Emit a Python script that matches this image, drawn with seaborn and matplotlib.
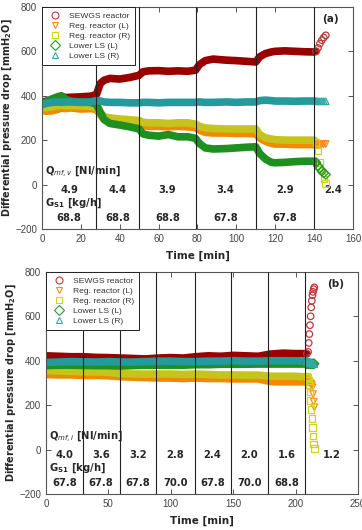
import numpy as np
import pandas as pd
import seaborn as sns
import matplotlib.pyplot as plt
from matplotlib.lines import Line2D

# ---- data ----
series = ["SEWGS reactor", "Reg. reactor (L)", "Reg. reactor (R)", "Lower LS (L)", "Lower LS (R)"]

# panel (a)
ta = [0, 2, 5, 8, 10, 12, 15, 20, 25, 28, 30, 32, 35, 40, 45, 50, 52, 55, 60, 65, 70, 75,
      79, 81, 84, 88, 95, 100, 105, 110, 112, 115, 118, 120, 125, 130, 135,
      140, 141, 142, 143, 144, 145, 146]
a_sewgs = [370, 375, 382, 390, 395, 392, 393, 395, 398, 405, 455, 470, 478, 475, 482,
           492, 508, 512, 513, 510, 512, 510, 515, 540, 558, 565, 560, 558, 555,
           552, 575, 590, 597, 600, 602, 600, 598, 597, 600, 615, 635, 650, 662, 672]
a_reg_l = [335, 330, 332, 338, 345, 342, 345, 340, 342, 338, 315, 295, 282, 278, 274,
           268, 265, 262, 262, 260, 262, 260, 256, 245, 235, 232, 232, 230, 230,
           228, 210, 195, 185, 182, 182, 180, 180, 180, 180, 180, 181, 182, 182, 183]
a_reg_r = [345, 346, 350, 355, 358, 355, 355, 354, 352, 348, 325, 305, 300, 295, 292,
           288, 280, 278, 278, 275, 278, 278, 272, 262, 255, 252, 250, 250, 250,
           250, 225, 210, 205, 202, 200, 200, 200, 200, 190, 150, 100, 60, 25, 5]
a_ls_l = [365, 372, 385, 395, 400, 385, 375, 372, 370, 362, 325, 292, 275, 268, 260,
          250, 228, 222, 218, 225, 215, 215, 208, 185, 165, 160, 162, 165, 168,
          170, 140, 115, 100, 98, 100, 103, 105, 105, 100, 85, 72, 60, 52, 45]
a_ls_r = [360, 365, 370, 372, 370, 372, 372, 370, 372, 378, 376, 372, 370, 370, 368,
          368, 370, 370, 368, 370, 370, 370, 370, 372, 370, 370, 372, 370, 372,
          372, 378, 380, 378, 376, 376, 375, 376, 376, 375, 375, 375, 376, 375, 375]
a_dividers = [28, 50, 79, 110, 140]
a_q = ["4.9", "4.4", "3.9", "3.4", "2.9", "2.4"]
a_g = ["68.8", "68.8", "68.8", "67.8", "67.8"]

# panel (b)
tb = [0, 10, 20, 30, 40, 50, 60, 70, 80, 90, 100, 110, 120, 130, 140, 150, 160, 170, 180,
      190, 200, 205, 209, 210, 210.5, 211, 211.5, 212, 212.5, 213, 213.5, 214, 214.5, 215]
b_sewgs = [422, 420, 418, 418, 415, 414, 412, 410, 408, 412, 414, 412, 418, 422, 420, 424,
           422, 420, 430, 434, 432, 432, 432, 440, 480, 520, 560, 600, 640, 670, 695, 710, 722, 730]
b_reg_l = [338, 336, 336, 334, 334, 332, 328, 326, 324, 322, 322, 320, 322, 320, 320, 318,
           318, 318, 306, 305, 305, 305, 305, 304, 303, 302, 300, 298, 295, 290, 280, 250, 215, 190]
b_reg_r = [356, 354, 352, 350, 350, 348, 342, 340, 340, 340, 340, 338, 340, 338, 336, 336,
           335, 335, 330, 330, 330, 328, 328, 325, 310, 290, 260, 220, 180, 140, 100, 60, 25, 5]
b_ls_l = [378, 380, 380, 379, 378, 378, 376, 378, 380, 380, 380, 380, 382, 382, 384, 384,
          384, 385, 385, 385, 385, 385, 385, 385, 386, 386, 386, 386, 386, 386, 386, 386, 386, 386]
b_ls_r = [392, 394, 396, 395, 394, 396, 394, 394, 396, 398, 398, 396, 396, 398, 398, 400,
          398, 398, 400, 400, 400, 398, 398, 396, 395, 393, 392, 390, 390, 388, 387, 386, 385, 385]
b_dividers = [29.5, 59, 88.5, 119, 148, 178, 207.5]
b_q = ["4.0", "3.6", "3.2", "2.8", "2.4", "2.0", "1.6", "1.2"]
b_g = ["67.8", "67.8", "67.8", "70.0", "67.8", "70.0", "68.8"]

# ---- style ----
band_colors = ["#990000", "#f08a00", "#c4c41c", "#1f8f1f", "#239a9c"]
edge_colors = ["#b83a3a", "#ff8c1a", "#d2d21e", "#2a9a2a", "#33a8a8"]
markers = ["o", "v", "s", "D", "^"]

sns.set_style("ticks")
plt.rcParams["font.family"] = ["DejaVu Sans"]
plt.rcParams["mathtext.fontset"] = "dejavusans"


def make_df(t, cols):
    rows = []
    for name, vals in zip(series, cols):
        rows.append(pd.DataFrame({"t": t, "y": vals, "series": name}))
    return pd.concat(rows, ignore_index=True)


def draw(ax, t, cols, cut, dividers, xmax, qvals, gvals, qlabel, tag, xticks):
    df = make_df(t, cols)
    band = df[df["t"] <= cut]
    tail = df[df["t"] >= cut]
    sns.lineplot(data=band, x="t", y="y", hue="series", hue_order=series,
                 palette=band_colors, lw=5.5, estimator=None, sort=False,
                 legend=False, ax=ax, solid_joinstyle="round")
    for name, m, ec in zip(series, markers, edge_colors):
        d = tail[tail["series"] == name]
        sns.scatterplot(data=d, x="t", y="y", marker=m, s=22, facecolors="none",
                        edgecolors=ec, linewidths=0.9, ax=ax, zorder=4)
    for xv in dividers:
        ax.axvline(xv, color="#222222", lw=0.8, zorder=5)

    edges = [0] + dividers + [xmax]
    centers = [(edges[i] + edges[i + 1]) / 2 for i in range(len(edges) - 1)]
    for c, q in zip(centers, qvals):
        ax.text(c, -26, q, ha="center", va="center", fontsize=7.2, fontweight="bold")
    for c, g in zip(centers, gvals):
        ax.text(c, -152, g, ha="center", va="center", fontsize=7.2, fontweight="bold")
    ax.text(0.01, 0.26, qlabel, transform=ax.transAxes, ha="left", va="center",
            fontsize=7.2, fontweight="bold")
    ax.text(0.01, 0.115, r"G$_{\mathbf{S1}}$ [kg/h]", transform=ax.transAxes, ha="left",
            va="center", fontsize=7.2, fontweight="bold")
    ax.text(0.955, 0.945, tag, transform=ax.transAxes, ha="right", va="center",
            fontsize=7.5, fontweight="bold")

    ax.set_xlim(0, xmax)
    ax.set_ylim(-200, 800)
    ax.set_xticks(xticks)
    ax.set_yticks([-200, 0, 200, 400, 600, 800])
    ax.tick_params(direction="in", top=True, right=True, length=3.5, width=0.7,
                   labelsize=7, labelcolor="#444444", color="#555555", pad=3.5)
    for lab in ax.get_xticklabels() + ax.get_yticklabels():
        lab.set_family("Liberation Sans")
    for s in ax.spines.values():
        s.set_color("#555555")
        s.set_linewidth(0.8)
    ax.set_xlabel("Time [min]", fontsize=7.5, fontweight="bold", labelpad=5)
    ax.set_ylabel(r"Differential pressure drop [mmH$_\mathbf{2}$O]", fontsize=7,
                  fontweight="bold", labelpad=1)

    handles = [Line2D([], [], ls="none", marker=m, mfc="none", mec=ec, mew=0.8, ms=5)
               for m, ec in zip(markers, edge_colors)]
    leg = ax.legend(handles, series, loc="upper left", borderaxespad=0, frameon=True,
                    fancybox=False, edgecolor="#222222", framealpha=1,
                    prop={"family": "Liberation Sans", "size": 6.1},
                    handletextpad=0.8, labelspacing=0.25, borderpad=0.6,
                    handlelength=1.8)
    leg.get_frame().set_linewidth(0.7)
    for txt in leg.get_texts():
        txt.set_color("#333333")
    leg.set_zorder(6)


fig = plt.figure(figsize=(3.62, 5.30), dpi=100)
ax1 = fig.add_axes([0.116, 0.568, 0.859, 0.419])
ax2 = fig.add_axes([0.127, 0.068, 0.862, 0.419])

draw(ax1, ta, [a_sewgs, a_reg_l, a_reg_r, a_ls_l, a_ls_r], 141, a_dividers, 160,
     a_q, a_g, r"Q$_{mf,v}$ [Nl/min]", "(a)", range(0, 161, 20))
draw(ax2, tb, [b_sewgs, b_reg_l, b_reg_r, b_ls_l, b_ls_r], 209, b_dividers, 250,
     b_q, b_g, r"Q$_{mf,i}$ [Nl/min]", "(b)", range(0, 251, 50))

fig.savefig("out.png", dpi=100)
